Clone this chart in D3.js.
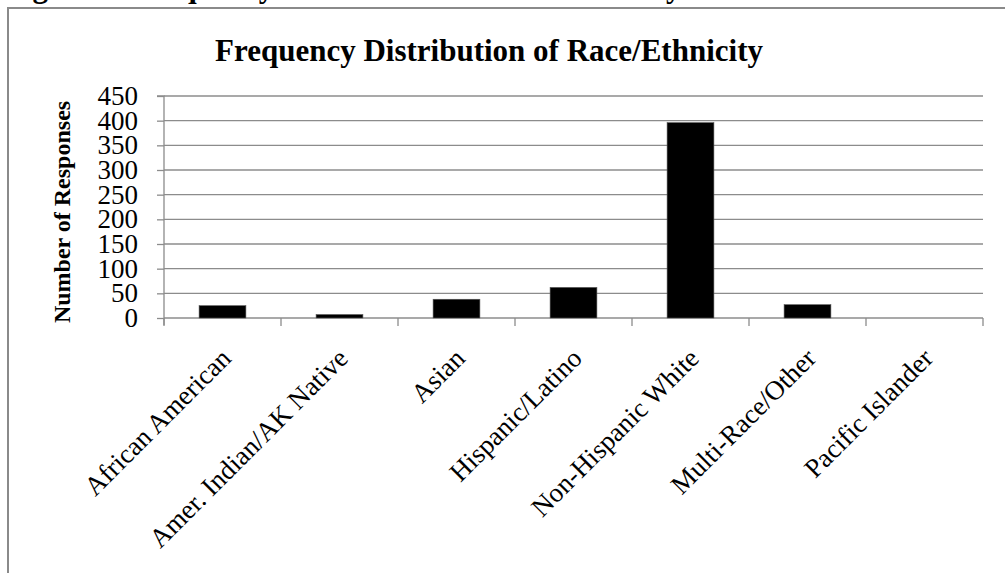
<!DOCTYPE html>
<html>
<head>
<meta charset="utf-8">
<script src="https://cdn.jsdelivr.net/npm/d3@7"></script>
<style>
  html, body { margin: 0; padding: 0; background: #fff; }
  svg { display: block; }
  text { font-family: "Liberation Serif", "Times New Roman", serif; fill: #000; }
</style>
</head>
<body>
<script>
// Survey responses by race/ethnicity
const categories = [
  "African American",
  "Amer. Indian/AK Native",
  "Asian",
  "Hispanic/Latino",
  "Non-Hispanic White",
  "Multi-Race/Other",
  "Pacific Islander"
];
const responses = [25, 7, 38, 62, 396, 27, 0];
const yTicks = [0, 50, 100, 150, 200, 250, 300, 350, 400, 450];

const W = 1005, H = 573;
const svg = d3.select("body").append("svg").attr("width", W).attr("height", H);

// caption above the chart frame (only its descenders fall inside the page)
svg.append("text")
  .attr("x", 5).attr("y", -3)
  .attr("font-size", 31).attr("font-weight", "bold")
  .text("Figure 3: Frequency Distribution of Race/Ethnicity");

// chart frame: top and left edges
svg.append("path")
  .attr("d", `M8,${H} L8,8 L${W},8`)
  .attr("fill", "none").attr("stroke", "#8a8a8a").attr("stroke-width", 2);

const plot = { left: 164, right: 983, top: 96, bottom: 318 };

const x = d3.scaleBand()
  .domain(categories)
  .range([plot.left, plot.right])
  .paddingInner(0.6)
  .paddingOuter(0.3);

const y = d3.scaleLinear().domain([0, 450]).range([plot.bottom, plot.top]);

const grid = "#8c8c8c";

// horizontal gridlines
svg.append("g").selectAll("line")
  .data(yTicks.filter(d => d > 0))
  .join("line")
  .attr("x1", plot.left).attr("x2", plot.right)
  .attr("y1", d => y(d)).attr("y2", d => y(d))
  .attr("stroke", grid).attr("stroke-width", 1.3);

// y axis
const yAxis = svg.append("g")
  .attr("transform", `translate(${plot.left},0)`)
  .call(d3.axisLeft(y).tickValues(yTicks).tickSize(7).tickPadding(19));
yAxis.select(".domain").attr("stroke", grid).attr("stroke-width", 1.3)
  .attr("d", `M-7,${plot.top}H0V${plot.bottom + 7}`);
yAxis.selectAll(".tick line").attr("stroke", grid).attr("stroke-width", 1.3);
yAxis.selectAll(".tick text")
  .attr("font-family", "Liberation Serif, Times New Roman, serif")
  .attr("font-size", 27).attr("fill", "#000");

// x axis line with tick marks between categories
const step = x.step();
const boundaries = d3.range(categories.length + 1).map(i => plot.left + i * step);
svg.append("line")
  .attr("x1", plot.left).attr("x2", plot.right)
  .attr("y1", plot.bottom).attr("y2", plot.bottom)
  .attr("stroke", grid).attr("stroke-width", 1.3);
svg.append("g").selectAll("line")
  .data(boundaries)
  .join("line")
  .attr("x1", d => d).attr("x2", d => d)
  .attr("y1", plot.bottom).attr("y2", plot.bottom + 8)
  .attr("stroke", grid).attr("stroke-width", 1.3);

// bars
svg.append("g").selectAll("rect")
  .data(categories.map((c, i) => ({ c, v: responses[i] })).filter(d => d.v > 0))
  .join("rect")
  .attr("x", d => x(d.c))
  .attr("width", x.bandwidth())
  .attr("y", d => y(d.v))
  .attr("height", d => y(0) - y(d.v))
  .attr("fill", "#000")
  .attr("stroke", "#555").attr("stroke-width", 0.6);

// category labels, rotated
svg.append("g").selectAll("text")
  .data(categories)
  .join("text")
  .attr("font-size", 27)
  .attr("text-anchor", "end")
  .attr("transform", d => `translate(${x(d) + x.bandwidth() / 2 + 10},360) rotate(-45)`)
  .text(d => d);

// chart title
svg.append("text")
  .attr("x", 489).attr("y", 61)
  .attr("text-anchor", "middle")
  .attr("font-size", 31).attr("font-weight", "bold")
  .text("Frequency Distribution of Race/Ethnicity");

// y axis title
svg.append("text")
  .attr("transform", "translate(70,212) rotate(-90)")
  .attr("text-anchor", "middle")
  .attr("font-size", 24).attr("font-weight", "bold")
  .text("Number of Responses");
</script>
</body>
</html>
